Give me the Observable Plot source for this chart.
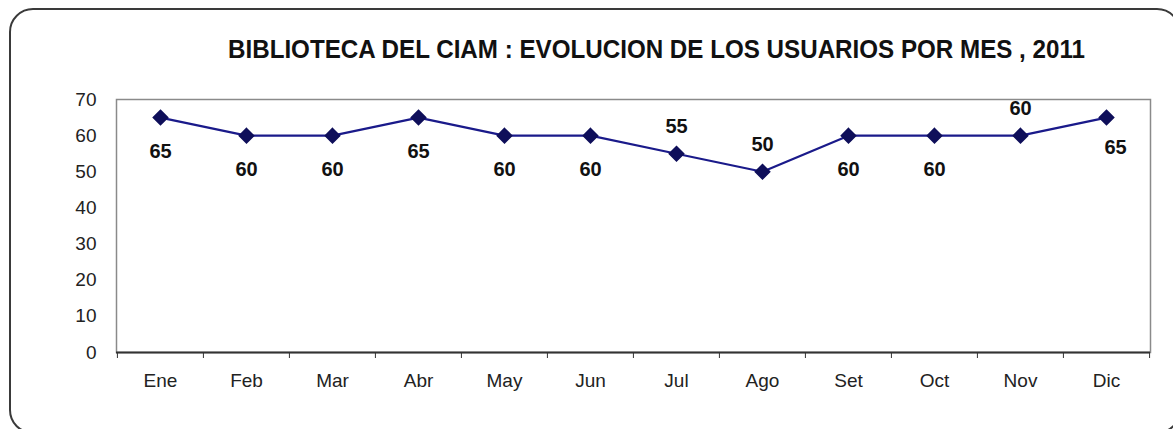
<!DOCTYPE html>
<html>
<head>
<meta charset="utf-8">
<script src="https://cdn.jsdelivr.net/npm/d3@7"></script>
<script src="https://cdn.jsdelivr.net/npm/@observablehq/plot@0.6"></script>
<style>
  html, body { margin: 0; padding: 0; background: #fff; width: 1173px; height: 429px; overflow: hidden; }
  #frame { position: absolute; left: 9px; top: 8px; width: 1172px; height: 426px; border: 2px solid #3a3a3a; border-radius: 24px; box-sizing: border-box; }
  #title { position: absolute; left: 0; top: 34px; width: 1173px; height: 30px; font-family: "Liberation Sans", Arial, sans-serif; font-weight: bold; font-size: 26px; line-height: 30px; color: #111; white-space: nowrap; }
  #title span { display: inline-block; transform-origin: 0 0; position: absolute; left: 228px; top: 0; }
  #chart { position: absolute; left: 0; top: 80px; }
</style>
</head>
<body>
<div id="frame"></div>
<div id="title"><span>BIBLIOTECA DEL CIAM : EVOLUCION DE LOS USUARIOS POR MES , 2011</span></div>
<div id="chart"></div>
<script>
const months = ["Ene","Feb","Mar","Abr","May","Jun","Jul","Ago","Set","Oct","Nov","Dic"];
const usuarios = [65, 60, 60, 65, 60, 60, 55, 50, 60, 60, 60, 65];
const labelPlacement = ["below","below","below","below","below","below","above","above","below","below","above","below"];
const yTicks = [0, 10, 20, 30, 40, 50, 60, 70];

const data = months.map((m, i) => ({month: m, value: usuarios[i], place: labelPlacement[i]}));

const W = 1173, H = 349, ML = 116, MR = 23, MT = 19, MB = 77;
const bw = (W - ML - MR) / months.length;
const font = '"Liberation Sans", Arial, sans-serif';

const chart = Plot.plot({
  width: W, height: H,
  marginLeft: ML, marginRight: MR, marginTop: MT, marginBottom: MB,
  style: {fontFamily: font, background: "transparent", overflow: "visible"},
  x: {type: "band", domain: months, padding: 0, label: null},
  y: {domain: [0, 70], label: null},
  marks: [
    Plot.frame({stroke: "#8a8a8a", strokeWidth: 1.5}),
    Plot.ruleY([0], {stroke: "#333", strokeWidth: 2}),
    Plot.axisY({ticks: yTicks, tickSize: 0, tickPadding: 20, fontSize: 19, fill: "#222", textAnchor: "end", label: null}),
    Plot.axisX({tickSize: 0, tickPadding: 21, fontSize: 19, fill: "#222", label: null}),
    Plot.axisX({tickSize: 6, dx: -bw / 2, tickFormat: () => "", stroke: "#333", label: null}),
    Plot.axisX({ticks: [months[months.length - 1]], tickSize: 6, dx: bw / 2, tickFormat: () => "", stroke: "#333", label: null}),
    Plot.line(data, {x: "month", y: "value", stroke: "#1a1a8a", strokeWidth: 2.2}),
    Plot.dot(data, {x: "month", y: "value", symbol: "diamond2", r: 6.5, fill: "#0f0f5a", stroke: "#0f0f5a"}),
    Plot.text(data.filter(d => d.place === "below" && d.month !== "Dic"), {x: "month", y: "value", text: d => String(d.value), dy: 34, fontSize: 20, fontWeight: "bold", fill: "#111"}),
    Plot.text(data.filter(d => d.month === "Dic"), {x: "month", y: "value", text: d => String(d.value), dy: 30, dx: 9, fontSize: 20, fontWeight: "bold", fill: "#111"}),
    Plot.text(data.filter(d => d.place === "above"), {x: "month", y: "value", text: d => String(d.value), dy: -27, fontSize: 20, fontWeight: "bold", fill: "#111"})
  ]
});
document.getElementById("chart").appendChild(chart);

const span = document.querySelector("#title span");
const w = span.getBoundingClientRect().width;
span.style.transform = `scaleX(${857 / w})`;
</script>
</body>
</html>
